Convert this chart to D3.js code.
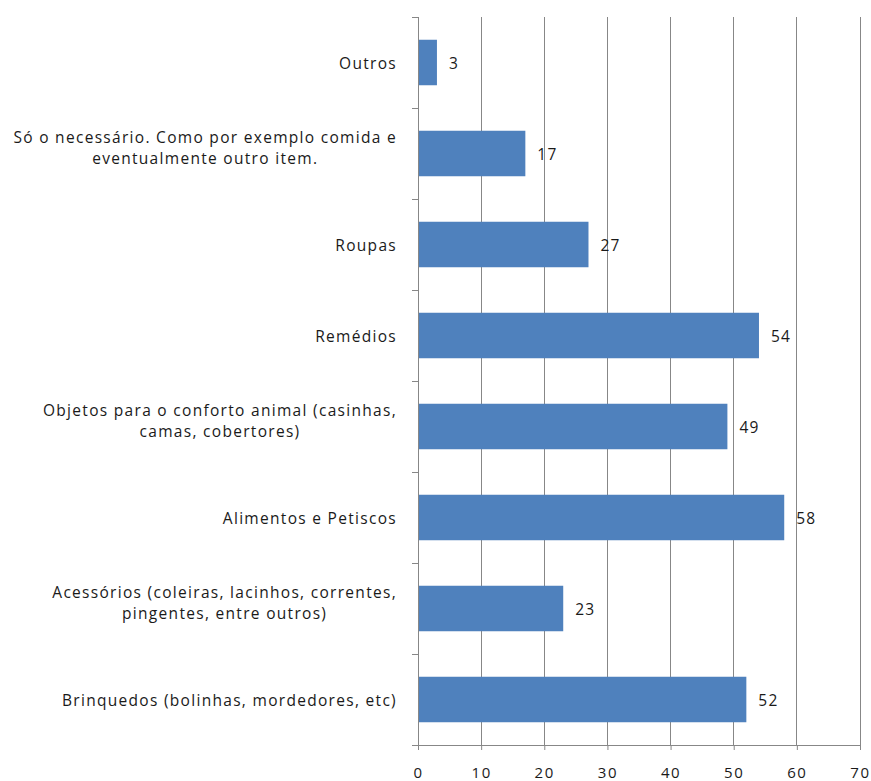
<!DOCTYPE html>
<html>
<head>
<meta charset="utf-8">
<script src="https://cdn.jsdelivr.net/npm/d3@7"></script>
<style>
  html, body { margin: 0; padding: 0; background: #fff; }
  svg { display: block; }
  text { font-family: "Open Sans", "DejaVu Sans", sans-serif; fill: #1a1a1a; }
</style>
</head>
<body>
<svg id="chart" width="871" height="781"></svg>
<script>
// Categories, top to bottom; a two-element array is a label drawn on two lines
const categories = [
  ["Outros"],
  ["Só o necessário. Como por exemplo comida e", "eventualmente outro item."],
  ["Roupas"],
  ["Remédios"],
  ["Objetos para o conforto animal (casinhas,", "camas, cobertores)"],
  ["Alimentos e Petiscos"],
  ["Acessórios (coleiras, lacinhos, correntes,", "pingentes, entre outros)"],
  ["Brinquedos (bolinhas, mordedores, etc)"]
];
const values = [3, 17, 27, 54, 49, 58, 23, 52];
const xTicks = [0, 10, 20, 30, 40, 50, 60, 70];

const W = 871, H = 781;
const margin = { top: 17, right: 11, bottom: 36, left: 418 };
const iw = W - margin.left - margin.right;
const ih = H - margin.top - margin.bottom;

const svg = d3.select("#chart");
const g = svg.append("g").attr("transform", `translate(${margin.left},${margin.top})`);

const x = d3.scaleLinear().domain([0, 70]).range([0, iw]);
const y = d3.scaleBand().domain(d3.range(categories.length)).range([0, ih])
  .paddingInner(0.5).paddingOuter(0.25);

const gridColor = "#878787";

// vertical gridlines
g.append("g").selectAll("line").data(xTicks.slice(1)).join("line")
  .attr("x1", d => x(d)).attr("x2", d => x(d))
  .attr("y1", 0).attr("y2", ih)
  .attr("stroke", gridColor).attr("stroke-width", 1).attr("shape-rendering", "crispEdges");

// bars
g.append("g").selectAll("rect").data(values).join("rect")
  .attr("x", x(0))
  .attr("y", (d, i) => y(i))
  .attr("width", d => x(d) - x(0))
  .attr("height", y.bandwidth())
  .attr("fill", "#4f81bd");

// value labels
g.append("g").selectAll("text").data(values).join("text")
  .attr("x", d => x(d) + 12)
  .attr("y", (d, i) => y(i) + y.bandwidth() / 2)
  .attr("dominant-baseline", "central")
  .attr("font-size", 15.5)
  .style("letter-spacing", "1.2px")
  .text(d => d);

// x axis
const xAxis = g.append("g").attr("transform", `translate(0,${ih})`)
  .call(d3.axisBottom(x).tickValues(xTicks).tickSize(5).tickPadding(17).tickSizeOuter(0));
xAxis.select(".domain").attr("stroke", gridColor);
xAxis.selectAll(".tick line").attr("stroke", gridColor);
xAxis.selectAll(".tick text")
  .attr("font-family", "Open Sans, DejaVu Sans, sans-serif")
  .attr("font-size", 15).style("letter-spacing", "1.6px").attr("fill", "#1a1a1a");

// y axis line with ticks at category boundaries
const yAxis = g.append("g");
yAxis.append("line").attr("x1", 0).attr("x2", 0).attr("y1", 0).attr("y2", ih)
  .attr("stroke", gridColor).attr("shape-rendering", "crispEdges");
yAxis.selectAll("line.tk").data(d3.range(categories.length + 1)).join("line")
  .attr("class", "tk")
  .attr("x1", -6).attr("x2", 0)
  .attr("y1", i => (i * ih) / categories.length)
  .attr("y2", i => (i * ih) / categories.length)
  .attr("stroke", gridColor).attr("shape-rendering", "crispEdges");

// category labels: block right-aligned, lines centred within the block
const labelRight = -21;
const labels = g.append("g");
categories.forEach((lines, i) => {
  const cy = y(i) + y.bandwidth() / 2;
  const grp = labels.append("g");
  const texts = lines.map((ln, k) => grp.append("text")
    .attr("font-size", 15.5)
    .style("letter-spacing", "1.3px")
    .attr("dominant-baseline", "central")
    .attr("y", lines.length === 1 ? cy : cy - 17 + k * 21.5)
    .text(ln));
  const widths = texts.map(t => t.node().getComputedTextLength());
  const maxW = d3.max(widths);
  texts.forEach(t => t.attr("text-anchor", "middle").attr("x", labelRight - maxW / 2));
});
</script>
</body>
</html>
